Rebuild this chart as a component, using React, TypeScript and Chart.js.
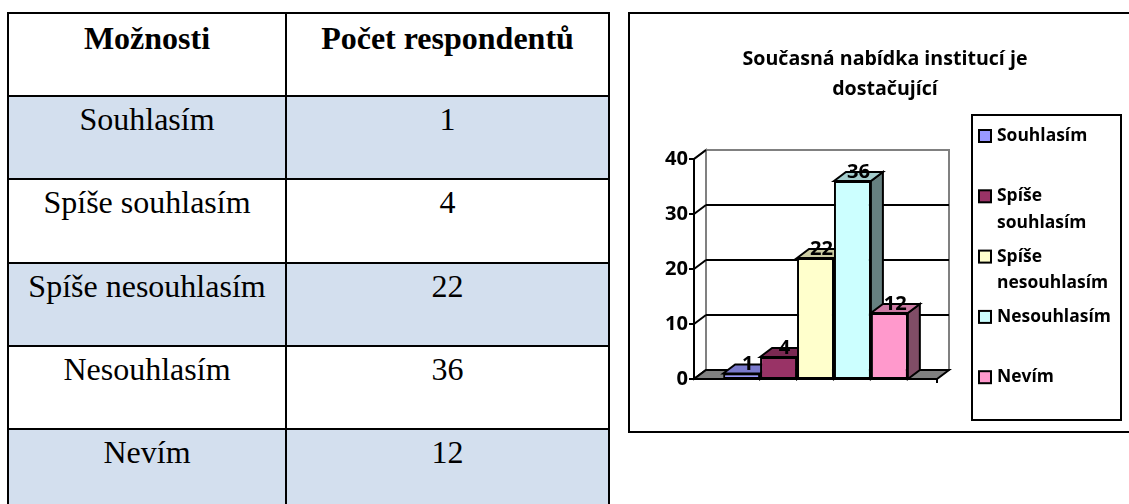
import React, { useEffect, useRef } from "react";
import { Chart, registerables } from "chart.js";

Chart.register(...registerables);

// ---------- data ----------
const TITLE_LINES = ["Současná nabídka institucí je", "dostačující"];
const TABLE_HEADERS = ["Možnosti", "Počet respondentů"];
const CATEGORIES = ["Souhlasím", "Spíše souhlasím", "Spíše nesouhlasím", "Nesouhlasím", "Nevím"];
const RESPONDENTS = [1, 4, 22, 36, 12];
const Y_TICKS = [0, 10, 20, 30, 40];

// ---------- styles ----------
const FRONT_COLORS = ["#9999FF", "#993366", "#FFFFCC", "#CCFFFF", "#FF99CC"];
const ROW_BLUE = "#D3DFEE";
const CHART_FONT = "'Open Sans', 'Liberation Sans', sans-serif";
const DX = 12;
const DY = 9;

function shade(hex: string, f: number): string {
  const n = parseInt(hex.slice(1), 16);
  const r = Math.round(((n >> 16) & 255) * f);
  const g = Math.round(((n >> 8) & 255) * f);
  const b = Math.round((n & 255) * f);
  return `rgb(${r},${g},${b})`;
}

function poly(ctx: CanvasRenderingContext2D, pts: number[][], fill: string | null, stroke: string | null) {
  ctx.beginPath();
  ctx.moveTo(pts[0][0], pts[0][1]);
  for (let i = 1; i < pts.length; i++) ctx.lineTo(pts[i][0], pts[i][1]);
  ctx.closePath();
  if (fill) {
    ctx.fillStyle = fill;
    ctx.fill();
  }
  if (stroke) {
    ctx.strokeStyle = stroke;
    ctx.stroke();
  }
}

function line(ctx: CanvasRenderingContext2D, x1: number, y1: number, x2: number, y2: number) {
  ctx.beginPath();
  ctx.moveTo(x1, y1);
  ctx.lineTo(x2, y2);
  ctx.stroke();
}

function wrap(ctx: CanvasRenderingContext2D, text: string, maxW: number): string[] {
  const words = text.split(" ");
  const out: string[] = [];
  let cur = "";
  for (const w of words) {
    const test = cur ? cur + " " + w : w;
    if (cur && ctx.measureText(test).width > maxW) {
      out.push(cur);
      cur = w;
    } else cur = test;
  }
  if (cur) out.push(cur);
  return out;
}

// choose a font size so that `sample` is `target` px wide
function fitFont(ctx: CanvasRenderingContext2D, sample: string, target: number): string {
  ctx.font = `bold 20px ${CHART_FONT}`;
  const w = ctx.measureText(sample).width || 1;
  const size = Math.max(8, Math.min(30, (20 * target) / w));
  return `bold ${size.toFixed(2)}px ${CHART_FONT}`;
}

const threeD = {
  id: "threeD",
  beforeDatasetsDraw(chart: any) {
    const { ctx, chartArea } = chart;
    const { left: L, right: R, top: T, bottom: B } = chartArea;
    const ys = chart.scales.y;
    ctx.save();
    ctx.lineJoin = "miter";
    ctx.lineWidth = 2;
    poly(ctx, [[L, B], [L, T], [L + DX, T - DY], [L + DX, B - DY]], "#ffffff", "#808080");
    poly(ctx, [[L + DX, T - DY], [R + DX, T - DY], [R + DX, B - DY], [L + DX, B - DY]], "#ffffff", "#808080");
    ctx.strokeStyle = "#000";
    const maxV = Y_TICKS[Y_TICKS.length - 1];
    for (const v of Y_TICKS) {
      const py = ys.getPixelForValue(v);
      line(ctx, L, py, L + DX, py - DY);
      if (v > 0 && v < maxV) line(ctx, L + DX, py - DY, R + DX, py - DY);
    }
    poly(ctx, [[L, B], [R, B], [R + DX, B - DY], [L + DX, B - DY]], "#808080", "#000");
    ctx.strokeStyle = "#000";
    line(ctx, L, T, L, B);
    for (const v of Y_TICKS) {
      const py = ys.getPixelForValue(v);
      line(ctx, L - 5, py, L, py);
    }
    line(ctx, R, B, R, B + 4);
    chart.data.datasets.forEach((ds: any, i: number) => {
      const el = chart.getDatasetMeta(i).data[0];
      if (!el) return;
      const p = el.getProps(["x", "y", "base", "width"], true);
      const lft = p.x - p.width / 2;
      const rgt = p.x + p.width / 2;
      poly(ctx, [[rgt, p.y], [rgt + DX, p.y - DY], [rgt + DX, p.base - DY], [rgt, p.base]], shade(FRONT_COLORS[i], 0.5), "#000");
      poly(ctx, [[lft, p.y], [lft + DX, p.y - DY], [rgt + DX, p.y - DY], [rgt, p.y]], shade(FRONT_COLORS[i], 0.8), "#000");
    });
    ctx.restore();
  },
  afterDatasetsDraw(chart: any) {
    const { ctx, chartArea } = chart;
    const { left: L } = chartArea;
    const ys = chart.scales.y;
    ctx.save();
    ctx.fillStyle = "#000";
    const numFont = fitFont(ctx, "40", 23);
    ctx.font = numFont;
    ctx.textAlign = "center";
    ctx.textBaseline = "middle";
    chart.data.datasets.forEach((ds: any, i: number) => {
      const el = chart.getDatasetMeta(i).data[0];
      if (!el) return;
      const p = el.getProps(["x", "y"], true);
      ctx.fillText(String(ds.data[0]), p.x + DX / 2, p.y - 9);
    });
    ctx.textAlign = "right";
    for (const v of Y_TICKS) {
      ctx.fillText(String(v), L - 6, ys.getPixelForValue(v));
    }
    ctx.font = fitFont(ctx, TITLE_LINES[0], 285);
    ctx.textAlign = "center";
    ctx.textBaseline = "alphabetic";
    TITLE_LINES.forEach((t, i) => ctx.fillText(t, 255, 51 + i * 30));
    const lx = 342, ly = 101, lw = 149, lh = 305;
    ctx.lineWidth = 2;
    ctx.strokeStyle = "#000";
    ctx.strokeRect(lx, ly, lw, lh);
    ctx.font = fitFont(ctx, "Nesouhlasím", 114);
    ctx.textAlign = "left";
    ctx.textBaseline = "middle";
    chart.data.datasets.forEach((ds: any, i: number) => {
      const yc = 122 + i * 60.3;
      ctx.fillStyle = FRONT_COLORS[i];
      ctx.fillRect(349, yc - 6, 12, 12);
      ctx.strokeRect(349, yc - 6, 12, 12);
      ctx.fillStyle = "#000";
      const lines = wrap(ctx, ds.label, lx + lw - 368 - 2);
      lines.forEach((ln, k) => ctx.fillText(ln, 367, yc + k * 26.5));
    });
    ctx.restore();
  },
};

function ChartBox() {
  const ref = useRef<HTMLCanvasElement | null>(null);
  useEffect(() => {
    if (!ref.current) return;
    const chart = new Chart(ref.current, {
      type: "bar",
      data: {
        labels: [""],
        datasets: CATEGORIES.map((c, i) => ({
          label: c,
          data: [RESPONDENTS[i]],
          backgroundColor: FRONT_COLORS[i],
          borderColor: "#000",
          borderWidth: 2,
          borderSkipped: false,
          categoryPercentage: 0.76,
          barPercentage: 1,
        })),
      },
      options: {
        responsive: false,
        animation: false,
        events: [],
        layout: { padding: { left: 64, right: 192, top: 145, bottom: 52 } },
        scales: {
          x: { display: false },
          y: { display: false, min: 0, max: 40, ticks: { stepSize: 10 } },
        },
        plugins: { legend: { display: false }, title: { display: false }, tooltip: { enabled: false } },
      },
      plugins: [threeD as any],
    });
    return () => chart.destroy();
  }, []);
  return <canvas ref={ref} width={499} height={417} style={{ width: 499, height: 417, display: "block" }} />;
}

const ROW_LINES = [12, 95, 178, 262, 345, 428, 511];
const COL_LINES = [7, 285, 608];

function Table() {
  const rows = [TABLE_HEADERS, ...CATEGORIES.map((c, i) => [c, String(RESPONDENTS[i])])];
  const cells: any[] = [];
  rows.forEach((row, r) => {
    row.forEach((txt, c) => {
      const top = ROW_LINES[r];
      const left = COL_LINES[c];
      cells.push(
        <div
          key={`${r}-${c}`}
          style={{
            position: "absolute",
            left,
            top,
            width: COL_LINES[c + 1] - left + 2,
            height: ROW_LINES[r + 1] - top + 2,
            boxSizing: "border-box",
            border: "2px solid #000",
            background: r % 2 === 1 ? ROW_BLUE : "#ffffff",
            fontFamily: "'Liberation Serif', 'Times New Roman', serif",
            fontSize: 32,
            lineHeight: "32px",
            fontWeight: r === 0 ? "bold" : "normal",
            textAlign: "center",
            paddingTop: r === 0 ? 8 : 6,
            color: "#000",
            whiteSpace: "nowrap",
          }}
        >
          {txt}
        </div>
      );
    });
  });
  return <>{cells}</>;
}

export default function App() {
  return (
    <div style={{ position: "absolute", left: 0, top: 0, width: 1129, height: 504, overflow: "hidden", background: "#fff" }}>
      <Table />
      <div
        style={{
          position: "absolute",
          left: 628,
          top: 12,
          width: 501,
          height: 421,
          boxSizing: "border-box",
          border: "2px solid #000",
          borderRight: "none",
        }}
      />
      <div style={{ position: "absolute", left: 630, top: 14, width: 499, height: 417 }}>
        <ChartBox />
      </div>
    </div>
  );
}
